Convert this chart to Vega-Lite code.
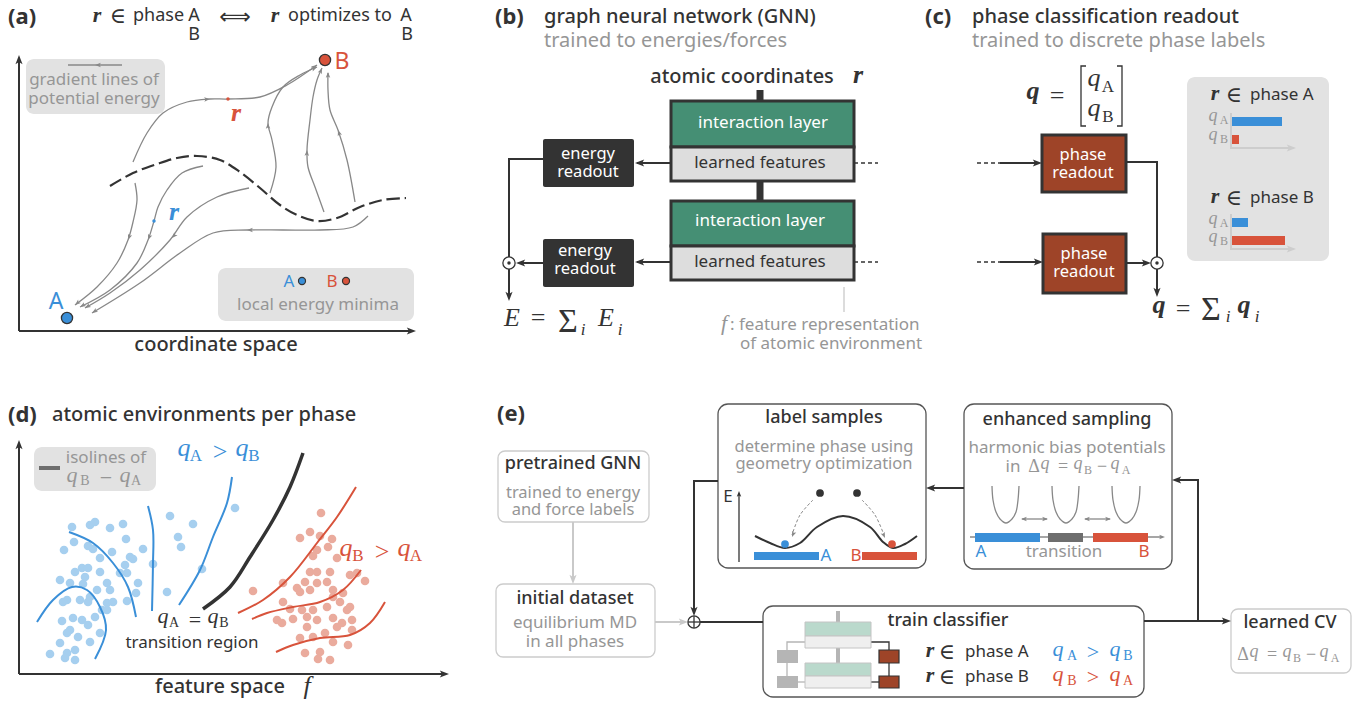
{
"$schema":"https://vega.github.io/schema/vega-lite/v6.json",
"width":1363,"height":702,
"autosize":{"type":"fit","contains":"padding"},
"padding":0,
"background":"white",
"config":{"view":{"stroke":null}},
"encoding":{
 "x":{"field":"x","type":"quantitative","scale":{"domain":[0,1363],"nice":false,"zero":false},"axis":null},
 "y":{"field":"y","type":"quantitative","scale":{"domain":[0,702],"nice":false,"zero":false,"reverse":true},"axis":null},
 "color":{"field":"tone","type":"nominal","legend":null,"scale":{
   "domain":["dark","gray","blue","red","white","lblue","salmon","green","lgray","box","brown","faint","mint","pale","mid","bar","axis","line"],
   "range":["#333333","#969696","#3a8fd8","#d8533b","#ffffff","#a6cfef","#eaab9d","#458f74","#dddddd","#e2e2e2","#9e4428","#c9c9c9","#bad9cc","#efefef","#b5b5b5","#6e6e6e","#cdcdcd","#888888"]}}
},
"layer":[
{"data":{"values":[
 {"x":26,"y":59,"x2":165,"y2":114,"tone":"box"},
 {"x":218,"y":268,"x2":414,"y2":321,"tone":"box"},
 {"x":1187,"y":77,"x2":1329,"y2":261,"tone":"box"},
 {"x":34,"y":447,"x2":156,"y2":491,"tone":"box"}]},
 "mark":{"type":"rect","cornerRadius":8},
 "encoding":{"x2":{"field":"x2"},"y2":{"field":"y2"}}},
{"data":{"values":[
 {"x":718,"y":404,"x2":926,"y2":568,"tone":"white"},
 {"x":964,"y":404,"x2":1172,"y2":569,"tone":"white"},
 {"x":763,"y":606,"x2":1144,"y2":697,"tone":"white"}]},
 "mark":{"type":"rect","cornerRadius":10,"stroke":"#555555","strokeWidth":1.3},
 "encoding":{"x2":{"field":"x2"},"y2":{"field":"y2"}}},
{"data":{"values":[
 {"x":498,"y":451,"x2":649,"y2":522,"tone":"white"},
 {"x":496,"y":584,"x2":655,"y2":657,"tone":"white"},
 {"x":1231,"y":609,"x2":1351,"y2":673,"tone":"white"}]},
 "mark":{"type":"rect","cornerRadius":7,"stroke":"#cccccc","strokeWidth":1.3},
 "encoding":{"x2":{"field":"x2"},"y2":{"field":"y2"}}},
{"data":{"values":[
 {"x":72,"y":527,"tone":"lblue"},{"x":90,"y":525,"tone":"lblue"},{"x":95,"y":522,"tone":"lblue"},{"x":110,"y":528,"tone":"lblue"},{"x":123,"y":524,"tone":"lblue"},{"x":126,"y":539,"tone":"lblue"},{"x":74,"y":542,"tone":"lblue"},{"x":64,"y":550,"tone":"lblue"},{"x":88,"y":546,"tone":"lblue"},{"x":93,"y":549,"tone":"lblue"},{"x":112,"y":552,"tone":"lblue"},{"x":100,"y":558,"tone":"lblue"},{"x":130,"y":557,"tone":"lblue"},{"x":133,"y":559,"tone":"lblue"},{"x":143,"y":549,"tone":"lblue"},{"x":125,"y":565,"tone":"lblue"},{"x":127,"y":573,"tone":"lblue"},{"x":82,"y":568,"tone":"lblue"},{"x":88,"y":568,"tone":"lblue"},{"x":75,"y":572,"tone":"lblue"},{"x":100,"y":572,"tone":"lblue"},{"x":85,"y":577,"tone":"lblue"},{"x":60,"y":580,"tone":"lblue"},{"x":70,"y":583,"tone":"lblue"},{"x":83,"y":584,"tone":"lblue"},{"x":107,"y":583,"tone":"lblue"},{"x":110,"y":590,"tone":"lblue"},{"x":97,"y":590,"tone":"lblue"},{"x":138,"y":583,"tone":"lblue"},{"x":67,"y":600,"tone":"lblue"},{"x":80,"y":600,"tone":"lblue"},{"x":88,"y":602,"tone":"lblue"},{"x":63,"y":602,"tone":"lblue"},{"x":107,"y":603,"tone":"lblue"},{"x":113,"y":602,"tone":"lblue"},{"x":127,"y":601,"tone":"lblue"},{"x":136,"y":593,"tone":"lblue"},{"x":73,"y":618,"tone":"lblue"},{"x":82,"y":620,"tone":"lblue"},{"x":62,"y":621,"tone":"lblue"},{"x":95,"y":617,"tone":"lblue"},{"x":102,"y":610,"tone":"lblue"},{"x":88,"y":625,"tone":"lblue"},{"x":70,"y":630,"tone":"lblue"},{"x":78,"y":637,"tone":"lblue"},{"x":100,"y":633,"tone":"lblue"},{"x":60,"y":643,"tone":"lblue"},{"x":90,"y":642,"tone":"lblue"},{"x":50,"y":654,"tone":"lblue"},{"x":67,"y":653,"tone":"lblue"},{"x":75,"y":650,"tone":"lblue"},{"x":65,"y":658,"tone":"lblue"},{"x":75,"y":660,"tone":"lblue"},{"x":67,"y":633,"tone":"lblue"},{"x":170,"y":516,"tone":"lblue"},{"x":193,"y":524,"tone":"lblue"},{"x":178,"y":537,"tone":"lblue"},{"x":181,"y":547,"tone":"lblue"},{"x":153,"y":564,"tone":"lblue"},{"x":167,"y":592,"tone":"lblue"},{"x":202,"y":569,"tone":"lblue"},{"x":235,"y":508,"tone":"lblue"},{"x":107,"y":610,"tone":"lblue"},{"x":90,"y":597,"tone":"lblue"},{"x":120,"y":573,"tone":"lblue"},
 {"x":321,"y":513,"tone":"salmon"},{"x":300,"y":538,"tone":"salmon"},{"x":310,"y":532,"tone":"salmon"},{"x":320,"y":536,"tone":"salmon"},{"x":332,"y":539,"tone":"salmon"},{"x":328,"y":547,"tone":"salmon"},{"x":313,"y":556,"tone":"salmon"},{"x":317,"y":550,"tone":"salmon"},{"x":337,"y":558,"tone":"salmon"},{"x":350,"y":575,"tone":"salmon"},{"x":365,"y":581,"tone":"salmon"},{"x":357,"y":573,"tone":"salmon"},{"x":330,"y":572,"tone":"salmon"},{"x":310,"y":572,"tone":"salmon"},{"x":317,"y":572,"tone":"salmon"},{"x":327,"y":582,"tone":"salmon"},{"x":305,"y":582,"tone":"salmon"},{"x":297,"y":588,"tone":"salmon"},{"x":283,"y":583,"tone":"salmon"},{"x":253,"y":591,"tone":"salmon"},{"x":300,"y":592,"tone":"salmon"},{"x":310,"y":590,"tone":"salmon"},{"x":333,"y":590,"tone":"salmon"},{"x":343,"y":593,"tone":"salmon"},{"x":340,"y":602,"tone":"salmon"},{"x":327,"y":607,"tone":"salmon"},{"x":313,"y":610,"tone":"salmon"},{"x":283,"y":602,"tone":"salmon"},{"x":290,"y":609,"tone":"salmon"},{"x":302,"y":610,"tone":"salmon"},{"x":277,"y":620,"tone":"salmon"},{"x":282,"y":623,"tone":"salmon"},{"x":293,"y":619,"tone":"salmon"},{"x":307,"y":617,"tone":"salmon"},{"x":317,"y":620,"tone":"salmon"},{"x":333,"y":618,"tone":"salmon"},{"x":337,"y":627,"tone":"salmon"},{"x":352,"y":620,"tone":"salmon"},{"x":347,"y":610,"tone":"salmon"},{"x":350,"y":607,"tone":"salmon"},{"x":307,"y":627,"tone":"salmon"},{"x":300,"y":638,"tone":"salmon"},{"x":313,"y":637,"tone":"salmon"},{"x":325,"y":633,"tone":"salmon"},{"x":333,"y":642,"tone":"salmon"},{"x":348,"y":645,"tone":"salmon"},{"x":305,"y":653,"tone":"salmon"},{"x":320,"y":652,"tone":"salmon"},{"x":330,"y":660,"tone":"salmon"},{"x":318,"y":659,"tone":"salmon"},{"x":352,"y":630,"tone":"salmon"},{"x":342,"y":623,"tone":"salmon"},{"x":317,"y":583,"tone":"salmon"},{"x":333,"y":597,"tone":"salmon"}]},
 "mark":{"type":"point","shape":"circle","filled":true,"opacity":1,"size":75}},
{"data":{"values":[
 {"id":"av","x":19,"y":331,"tone":"dark"},{"id":"av","x":19,"y":58,"tone":"dark"},
 {"id":"ah","x":19,"y":331,"tone":"dark"},{"id":"ah","x":413,"y":331,"tone":"dark"},
 {"id":"dv","x":19,"y":674,"tone":"dark"},{"id":"dv","x":19,"y":443,"tone":"dark"},
 {"id":"dh","x":19,"y":674,"tone":"dark"},{"id":"dh","x":446,"y":674,"tone":"dark"},
 {"id":"bf1","x":671,"y":163,"tone":"dark"},{"id":"bf1","x":637,"y":163,"tone":"dark"},
 {"id":"bf2","x":671,"y":262,"tone":"dark"},{"id":"bf2","x":637,"y":262,"tone":"dark"},
 {"id":"bl","x":543,"y":159,"tone":"dark"},{"id":"bl","x":509,"y":159,"tone":"dark"},{"id":"bl","x":509,"y":257,"tone":"dark"},
 {"id":"br2","x":543,"y":263,"tone":"dark"},{"id":"br2","x":519,"y":263,"tone":"dark"},
 {"id":"bd","x":509,"y":269,"tone":"dark"},{"id":"bd","x":509,"y":297,"tone":"dark"},
 {"id":"ci1","x":1000,"y":163,"tone":"dark"},{"id":"ci1","x":1039,"y":163,"tone":"dark"},
 {"id":"ci2","x":1000,"y":262,"tone":"dark"},{"id":"ci2","x":1040,"y":262,"tone":"dark"},
 {"id":"cr1","x":1126,"y":162,"tone":"dark"},{"id":"cr1","x":1157,"y":162,"tone":"dark"},{"id":"cr1","x":1157,"y":257,"tone":"dark"},
 {"id":"cr2","x":1126,"y":263,"tone":"dark"},{"id":"cr2","x":1148,"y":263,"tone":"dark"},
 {"id":"cd","x":1157,"y":269,"tone":"dark"},{"id":"cd","x":1157,"y":294,"tone":"dark"},
 {"id":"els","x":718,"y":481,"tone":"dark"},{"id":"els","x":694,"y":481,"tone":"dark"},{"id":"els","x":694,"y":613,"tone":"dark"},
 {"id":"etc","x":700,"y":622,"tone":"dark"},{"id":"etc","x":763,"y":622,"tone":"dark"},
 {"id":"ees","x":964,"y":488,"tone":"dark"},{"id":"ees","x":929,"y":488,"tone":"dark"},
 {"id":"ecv","x":1144,"y":621,"tone":"dark"},{"id":"ecv","x":1228,"y":621,"tone":"dark"},
 {"id":"eup","x":1198,"y":621,"tone":"dark"},{"id":"eup","x":1198,"y":480,"tone":"dark"},{"id":"eup","x":1175,"y":480,"tone":"dark"},
 {"id":"epg","x":573,"y":522,"tone":"faint"},{"id":"epg","x":573,"y":581,"tone":"faint"},
 {"id":"eid","x":655,"y":622,"tone":"faint"},{"id":"eid","x":685,"y":622,"tone":"faint"},
 {"id":"cx1","x":1231,"y":113,"tone":"axis"},{"id":"cx1","x":1231,"y":148,"tone":"axis"},{"id":"cx1","x":1293,"y":148,"tone":"axis"},
 {"id":"cx2","x":1231,"y":214,"tone":"axis"},{"id":"cx2","x":1231,"y":249,"tone":"axis"},{"id":"cx2","x":1293,"y":249,"tone":"axis"}]},
 "mark":{"type":"line","strokeWidth":2},
 "encoding":{"detail":{"field":"id"},"order":{"value":null}}},
{"data":{"values":[
 {"id":"al","x":68,"y":65,"tone":"line"},{"id":"al","x":122,"y":65,"tone":"line"},
 {"id":"bk1","x":1086,"y":66,"tone":"dark"},{"id":"bk1","x":1081,"y":66,"tone":"dark"},{"id":"bk1","x":1081,"y":126,"tone":"dark"},{"id":"bk1","x":1086,"y":126,"tone":"dark"},
 {"id":"bk2","x":1117,"y":66,"tone":"dark"},{"id":"bk2","x":1122,"y":66,"tone":"dark"},{"id":"bk2","x":1122,"y":126,"tone":"dark"},{"id":"bk2","x":1117,"y":126,"tone":"dark"},
 {"id":"bg","x":844,"y":287,"tone":"faint"},{"id":"bg","x":844,"y":312,"tone":"faint"},
 {"id":"eE","x":739,"y":562,"tone":"dark"},{"id":"eE","x":739,"y":494,"tone":"dark"},
 {"id":"eb","x":970,"y":537,"tone":"line"},{"id":"eb","x":1162,"y":537,"tone":"line"},
 {"id":"d1","x":1022,"y":519,"tone":"line"},{"id":"d1","x":1047,"y":519,"tone":"line"},
 {"id":"d2","x":1085,"y":519,"tone":"line"},{"id":"d2","x":1110,"y":519,"tone":"line"},
 {"id":"m1","x":805,"y":642,"tone":"mid"},{"id":"m1","x":787,"y":642,"tone":"mid"},{"id":"m1","x":787,"y":650,"tone":"mid"},
 {"id":"m2","x":787,"y":663,"tone":"mid"},{"id":"m2","x":787,"y":676,"tone":"mid"},
 {"id":"m3","x":798,"y":682,"tone":"mid"},{"id":"m3","x":805,"y":682,"tone":"mid"},
 {"id":"n1","x":871,"y":642,"tone":"dark"},{"id":"n1","x":889,"y":642,"tone":"dark"},{"id":"n1","x":889,"y":650,"tone":"dark"},
 {"id":"n2","x":889,"y":663,"tone":"dark"},{"id":"n2","x":889,"y":676,"tone":"dark"},
 {"id":"n3","x":871,"y":682,"tone":"dark"},{"id":"n3","x":879,"y":682,"tone":"dark"}]},
 "mark":{"type":"line","strokeWidth":1.3},
 "encoding":{"detail":{"field":"id"},"order":{"value":null}}},
{"data":{"values":[
 {"id":"s1","x":760,"y":90,"tone":"dark"},{"id":"s1","x":760,"y":101,"tone":"dark"},
 {"id":"s2","x":760,"y":181,"tone":"dark"},{"id":"s2","x":760,"y":201,"tone":"dark"}]},
 "mark":{"type":"line","strokeWidth":7,"strokeCap":"butt"},
 "encoding":{"detail":{"field":"id"},"order":{"value":null}}},
{"data":{"values":[
 {"id":"t1","x":838,"y":611,"tone":"mid"},{"id":"t1","x":838,"y":622,"tone":"mid"},
 {"id":"t2","x":838,"y":648,"tone":"mid"},{"id":"t2","x":838,"y":663,"tone":"mid"},
 {"id":"lg","x":39,"y":468,"tone":"bar"},{"id":"lg","x":60,"y":468,"tone":"bar"}]},
 "mark":{"type":"line","strokeWidth":4,"strokeCap":"butt"},
 "encoding":{"detail":{"field":"id"},"order":{"value":null}}},
{"data":{"values":[
 {"id":"q1","x":854,"y":163,"tone":"dark"},{"id":"q1","x":878,"y":163,"tone":"dark"},
 {"id":"q2","x":854,"y":262,"tone":"dark"},{"id":"q2","x":878,"y":262,"tone":"dark"},
 {"id":"q3","x":977,"y":163,"tone":"dark"},{"id":"q3","x":1000,"y":163,"tone":"dark"},
 {"id":"q4","x":977,"y":262,"tone":"dark"},{"id":"q4","x":1000,"y":262,"tone":"dark"}]},
 "mark":{"type":"line","strokeWidth":1.5,"strokeDash":[4,3]},
 "encoding":{"detail":{"field":"id"},"order":{"value":null}}},
{"data":{"values":[
 {"id":"g1","x":133,"y":162,"tone":"line"},{"id":"g1","x":147,"y":133,"tone":"line"},{"id":"g1","x":163,"y":113,"tone":"line"},{"id":"g1","x":187,"y":102,"tone":"line"},{"id":"g1","x":210,"y":99,"tone":"line"},{"id":"g1","x":228,"y":99,"tone":"line"},{"id":"g1","x":260,"y":97,"tone":"line"},{"id":"g1","x":287,"y":85,"tone":"line"},{"id":"g1","x":317,"y":65,"tone":"line"},
 {"id":"g2","x":270,"y":193,"tone":"line"},{"id":"g2","x":276,"y":167,"tone":"line"},{"id":"g2","x":272,"y":140,"tone":"line"},{"id":"g2","x":268,"y":123,"tone":"line"},{"id":"g2","x":272,"y":107,"tone":"line"},{"id":"g2","x":283,"y":87,"tone":"line"},{"id":"g2","x":300,"y":75,"tone":"line"},{"id":"g2","x":317,"y":67,"tone":"line"},
 {"id":"g3","x":324,"y":212,"tone":"line"},{"id":"g3","x":315,"y":187,"tone":"line"},{"id":"g3","x":308,"y":167,"tone":"line"},{"id":"g3","x":307,"y":150,"tone":"line"},{"id":"g3","x":310,"y":120,"tone":"line"},{"id":"g3","x":313,"y":97,"tone":"line"},{"id":"g3","x":317,"y":80,"tone":"line"},{"id":"g3","x":322,"y":68,"tone":"line"},
 {"id":"g4","x":355,"y":202,"tone":"line"},{"id":"g4","x":347,"y":160,"tone":"line"},{"id":"g4","x":338,"y":130,"tone":"line"},{"id":"g4","x":330,"y":110,"tone":"line"},{"id":"g4","x":328,"y":90,"tone":"line"},{"id":"g4","x":328,"y":73,"tone":"line"},
 {"id":"g5","x":135,"y":183,"tone":"line"},{"id":"g5","x":137,"y":200,"tone":"line"},{"id":"g5","x":133,"y":222,"tone":"line"},{"id":"g5","x":128,"y":240,"tone":"line"},{"id":"g5","x":117,"y":263,"tone":"line"},{"id":"g5","x":97,"y":287,"tone":"line"},{"id":"g5","x":75,"y":305,"tone":"line"},
 {"id":"g6","x":203,"y":166,"tone":"line"},{"id":"g6","x":182,"y":173,"tone":"line"},{"id":"g6","x":167,"y":190,"tone":"line"},{"id":"g6","x":158,"y":207,"tone":"line"},{"id":"g6","x":154,"y":221,"tone":"line"},{"id":"g6","x":148,"y":240,"tone":"line"},{"id":"g6","x":137,"y":263,"tone":"line"},{"id":"g6","x":110,"y":290,"tone":"line"},{"id":"g6","x":80,"y":307,"tone":"line"},
 {"id":"g7","x":249,"y":188,"tone":"line"},{"id":"g7","x":217,"y":197,"tone":"line"},{"id":"g7","x":187,"y":217,"tone":"line"},{"id":"g7","x":170,"y":240,"tone":"line"},{"id":"g7","x":140,"y":270,"tone":"line"},{"id":"g7","x":110,"y":293,"tone":"line"},{"id":"g7","x":85,"y":308,"tone":"line"},
 {"id":"g8","x":368,"y":216,"tone":"line"},{"id":"g8","x":353,"y":227,"tone":"line"},{"id":"g8","x":320,"y":230,"tone":"line"},{"id":"g8","x":283,"y":230,"tone":"line"},{"id":"g8","x":247,"y":230,"tone":"line"},{"id":"g8","x":213,"y":233,"tone":"line"},{"id":"g8","x":180,"y":253,"tone":"line"},{"id":"g8","x":140,"y":283,"tone":"line"},{"id":"g8","x":92,"y":313,"tone":"line"},
 {"id":"p1","x":992,"y":486,"tone":"line"},{"id":"p1","x":993,"y":500,"tone":"line"},{"id":"p1","x":996,"y":512,"tone":"line"},{"id":"p1","x":1000,"y":519,"tone":"line"},{"id":"p1","x":1006,"y":523,"tone":"line"},{"id":"p1","x":1012,"y":519,"tone":"line"},{"id":"p1","x":1016,"y":512,"tone":"line"},{"id":"p1","x":1018,"y":500,"tone":"line"},{"id":"p1","x":1019,"y":486,"tone":"line"},
 {"id":"p2","x":1052,"y":486,"tone":"line"},{"id":"p2","x":1053,"y":500,"tone":"line"},{"id":"p2","x":1056,"y":512,"tone":"line"},{"id":"p2","x":1060,"y":519,"tone":"line"},{"id":"p2","x":1066,"y":523,"tone":"line"},{"id":"p2","x":1072,"y":519,"tone":"line"},{"id":"p2","x":1076,"y":512,"tone":"line"},{"id":"p2","x":1078,"y":500,"tone":"line"},{"id":"p2","x":1079,"y":486,"tone":"line"},
 {"id":"p3","x":1112,"y":486,"tone":"line"},{"id":"p3","x":1113,"y":500,"tone":"line"},{"id":"p3","x":1116,"y":512,"tone":"line"},{"id":"p3","x":1120,"y":519,"tone":"line"},{"id":"p3","x":1126,"y":523,"tone":"line"},{"id":"p3","x":1132,"y":519,"tone":"line"},{"id":"p3","x":1136,"y":512,"tone":"line"},{"id":"p3","x":1139,"y":500,"tone":"line"},{"id":"p3","x":1140,"y":486,"tone":"line"}]},
 "mark":{"type":"line","strokeWidth":1.3,"interpolate":"catmull-rom"},
 "encoding":{"detail":{"field":"id"},"order":{"value":null}}},
{"data":{"values":[
 {"id":"b","x":110,"y":186,"tone":"dark"},{"id":"b","x":133,"y":173,"tone":"dark"},{"id":"b","x":157,"y":164,"tone":"dark"},{"id":"b","x":177,"y":158,"tone":"dark"},{"id":"b","x":197,"y":156,"tone":"dark"},{"id":"b","x":220,"y":160,"tone":"dark"},{"id":"b","x":240,"y":172,"tone":"dark"},{"id":"b","x":260,"y":188,"tone":"dark"},{"id":"b","x":280,"y":205,"tone":"dark"},{"id":"b","x":297,"y":215,"tone":"dark"},{"id":"b","x":317,"y":221,"tone":"dark"},{"id":"b","x":337,"y":218,"tone":"dark"},{"id":"b","x":360,"y":207,"tone":"dark"},{"id":"b","x":383,"y":200,"tone":"dark"},{"id":"b","x":406,"y":198,"tone":"dark"}]},
 "mark":{"type":"line","strokeWidth":2.2,"strokeDash":[13,5],"interpolate":"catmull-rom"},
 "encoding":{"detail":{"field":"id"},"order":{"value":null}}},
{"data":{"values":[
 {"id":"i1","x":37,"y":622,"tone":"blue"},{"id":"i1","x":53,"y":600,"tone":"blue"},{"id":"i1","x":72,"y":587,"tone":"blue"},{"id":"i1","x":87,"y":590,"tone":"blue"},{"id":"i1","x":100,"y":607,"tone":"blue"},{"id":"i1","x":106,"y":630,"tone":"blue"},{"id":"i1","x":95,"y":659,"tone":"blue"},
 {"id":"i2","x":69,"y":532,"tone":"blue"},{"id":"i2","x":93,"y":543,"tone":"blue"},{"id":"i2","x":113,"y":563,"tone":"blue"},{"id":"i2","x":128,"y":587,"tone":"blue"},{"id":"i2","x":136,"y":617,"tone":"blue"},
 {"id":"i3","x":148,"y":506,"tone":"blue"},{"id":"i3","x":153,"y":530,"tone":"blue"},{"id":"i3","x":153,"y":563,"tone":"blue"},{"id":"i3","x":152,"y":611,"tone":"blue"},
 {"id":"i4","x":232,"y":477,"tone":"blue"},{"id":"i4","x":227,"y":503,"tone":"blue"},{"id":"i4","x":213,"y":537,"tone":"blue"},{"id":"i4","x":200,"y":570,"tone":"blue"},{"id":"i4","x":179,"y":605,"tone":"blue"},
 {"id":"r1","x":356,"y":487,"tone":"red"},{"id":"r1","x":337,"y":517,"tone":"red"},{"id":"r1","x":317,"y":543,"tone":"red"},{"id":"r1","x":290,"y":577,"tone":"red"},{"id":"r1","x":263,"y":600,"tone":"red"},{"id":"r1","x":238,"y":613,"tone":"red"},
 {"id":"r2","x":361,"y":570,"tone":"red"},{"id":"r2","x":343,"y":590,"tone":"red"},{"id":"r2","x":320,"y":602,"tone":"red"},{"id":"r2","x":293,"y":607,"tone":"red"},{"id":"r2","x":267,"y":613,"tone":"red"},{"id":"r2","x":252,"y":619,"tone":"red"},
 {"id":"r3","x":385,"y":602,"tone":"red"},{"id":"r3","x":370,"y":623,"tone":"red"},{"id":"r3","x":350,"y":635,"tone":"red"},{"id":"r3","x":320,"y":638,"tone":"red"},{"id":"r3","x":293,"y":645,"tone":"red"},{"id":"r3","x":276,"y":652,"tone":"red"},
 {"id":"w","x":755,"y":536,"tone":"dark"},{"id":"w","x":770,"y":543,"tone":"dark"},{"id":"w","x":785,"y":548,"tone":"dark"},{"id":"w","x":800,"y":543,"tone":"dark"},{"id":"w","x":817,"y":527,"tone":"dark"},{"id":"w","x":843,"y":516,"tone":"dark"},{"id":"w","x":870,"y":527,"tone":"dark"},{"id":"w","x":883,"y":542,"tone":"dark"},{"id":"w","x":893,"y":548,"tone":"dark"},{"id":"w","x":905,"y":544,"tone":"dark"},{"id":"w","x":917,"y":536,"tone":"dark"}]},
 "mark":{"type":"line","strokeWidth":2,"interpolate":"catmull-rom"},
 "encoding":{"detail":{"field":"id"},"order":{"value":null}}},
{"data":{"values":[
 {"id":"k","x":303,"y":453,"tone":"dark"},{"id":"k","x":290,"y":487,"tone":"dark"},{"id":"k","x":273,"y":520,"tone":"dark"},{"id":"k","x":250,"y":557,"tone":"dark"},{"id":"k","x":230,"y":587,"tone":"dark"},{"id":"k","x":203,"y":609,"tone":"dark"}]},
 "mark":{"type":"line","strokeWidth":3.5,"interpolate":"catmull-rom"},
 "encoding":{"detail":{"field":"id"},"order":{"value":null}}},
{"data":{"values":[
 {"id":"f1","x":813,"y":500,"tone":"line"},{"id":"f1","x":800,"y":515,"tone":"line"},{"id":"f1","x":792,"y":535,"tone":"line"},
 {"id":"f2","x":862,"y":500,"tone":"line"},{"id":"f2","x":875,"y":515,"tone":"line"},{"id":"f2","x":884,"y":535,"tone":"line"}]},
 "mark":{"type":"line","strokeWidth":1,"strokeDash":[3,2],"interpolate":"catmull-rom"},
 "encoding":{"detail":{"field":"id"},"order":{"value":null}}},
{"data":{"values":[
 {"x":1232,"y":117,"x2":1282,"y2":126,"tone":"blue"},{"x":1232,"y":135,"x2":1239,"y2":144,"tone":"red"},
 {"x":1232,"y":218,"x2":1248,"y2":227,"tone":"blue"},{"x":1232,"y":236,"x2":1285,"y2":245,"tone":"red"},
 {"x":754,"y":552,"x2":819,"y2":560,"tone":"blue"},{"x":862,"y":552,"x2":917,"y2":560,"tone":"red"},
 {"x":975,"y":533,"x2":1040,"y2":542,"tone":"blue"},{"x":1048,"y":533,"x2":1083,"y2":542,"tone":"bar"},{"x":1093,"y":533,"x2":1148,"y2":542,"tone":"red"},
 {"x":777,"y":650,"x2":798,"y2":663,"tone":"mid"},{"x":777,"y":676,"x2":798,"y2":688,"tone":"mid"}]},
 "mark":{"type":"rect"},
 "encoding":{"x2":{"field":"x2"},"y2":{"field":"y2"}}},
{"data":{"values":[
 {"x":543,"y":139,"x2":634,"y2":187,"tone":"dark"},{"x":543,"y":239,"x2":634,"y2":287,"tone":"dark"}]},
 "mark":{"type":"rect","cornerRadius":2},
 "encoding":{"x2":{"field":"x2"},"y2":{"field":"y2"}}},
{"data":{"values":[
 {"x":671,"y":101,"x2":854,"y2":147,"tone":"green"},{"x":671,"y":147,"x2":854,"y2":181,"tone":"lgray"},
 {"x":671,"y":201,"x2":854,"y2":246,"tone":"green"},{"x":671,"y":246,"x2":854,"y2":280,"tone":"lgray"},
 {"x":1042,"y":135,"x2":1126,"y2":192,"tone":"brown"},{"x":1043,"y":234,"x2":1126,"y2":293,"tone":"brown"}]},
 "mark":{"type":"rect","stroke":"#333333","strokeWidth":3},
 "encoding":{"x2":{"field":"x2"},"y2":{"field":"y2"}}},
{"data":{"values":[
 {"x":805,"y":622,"x2":871,"y2":636,"tone":"mint"},{"x":805,"y":636,"x2":871,"y2":648,"tone":"pale"},
 {"x":805,"y":663,"x2":871,"y2":676,"tone":"mint"},{"x":805,"y":676,"x2":871,"y2":688,"tone":"pale"}]},
 "mark":{"type":"rect","stroke":"#c4c4c4","strokeWidth":1},
 "encoding":{"x2":{"field":"x2"},"y2":{"field":"y2"}}},
{"data":{"values":[
 {"x":879,"y":650,"x2":899,"y2":663,"tone":"brown"},{"x":879,"y":676,"x2":899,"y2":688,"tone":"brown"}]},
 "mark":{"type":"rect","stroke":"#333333","strokeWidth":1.2},
 "encoding":{"x2":{"field":"x2"},"y2":{"field":"y2"}}},
{"data":{"values":[
 {"x":509,"y":263,"tone":"white"},{"x":1157,"y":263,"tone":"white"},{"x":694,"y":622,"tone":"white"}]},
 "mark":{"type":"point","shape":"circle","filled":true,"opacity":1,"size":150,"stroke":"#333333","strokeWidth":1.3}},
{"data":{"values":[
 {"id":"x1","x":688,"y":622,"tone":"dark"},{"id":"x1","x":700,"y":622,"tone":"dark"},
 {"id":"x2","x":694,"y":616,"tone":"dark"},{"id":"x2","x":694,"y":628,"tone":"dark"}]},
 "mark":{"type":"line","strokeWidth":1.3},
 "encoding":{"detail":{"field":"id"},"order":{"value":null}}},
{"data":{"values":[
 {"x":228,"y":99,"tone":"red"},{"x":154,"y":221,"tone":"blue"},{"x":509,"y":263,"tone":"dark"},{"x":1157,"y":263,"tone":"dark"}]},
 "mark":{"type":"point","shape":"circle","filled":true,"opacity":1,"size":12}},
{"data":{"values":[
 {"x":67,"y":318,"tone":"blue"},{"x":325,"y":60,"tone":"red"}]},
 "mark":{"type":"point","shape":"circle","filled":true,"opacity":1,"size":125,"stroke":"#333333","strokeWidth":1.3}},
{"data":{"values":[
 {"x":302,"y":281,"tone":"blue"},{"x":346,"y":281,"tone":"red"}]},
 "mark":{"type":"point","shape":"circle","filled":true,"opacity":1,"size":50,"stroke":"#333333","strokeWidth":1.2}},
{"data":{"values":[
 {"x":785,"y":544,"tone":"blue"},{"x":892,"y":544,"tone":"red"},{"x":820,"y":493,"tone":"dark"},{"x":857,"y":493,"tone":"dark"}]},
 "mark":{"type":"point","shape":"circle","filled":true,"opacity":1,"size":60}},
{"data":{"values":[
 {"x":19,"y":55,"ang":0,"tone":"dark"},{"x":416,"y":331,"ang":90,"tone":"dark"},
 {"x":19,"y":440,"ang":0,"tone":"dark"},{"x":449,"y":674,"ang":90,"tone":"dark"},
 {"x":635,"y":163,"ang":270,"tone":"dark"},{"x":635,"y":262,"ang":270,"tone":"dark"},
 {"x":516,"y":263,"ang":270,"tone":"dark"},{"x":509,"y":301,"ang":180,"tone":"dark"},
 {"x":1042,"y":163,"ang":90,"tone":"dark"},{"x":1043,"y":262,"ang":90,"tone":"dark"},
 {"x":1151,"y":263,"ang":90,"tone":"dark"},{"x":1157,"y":297,"ang":180,"tone":"dark"},
 {"x":1296,"y":148,"ang":90,"tone":"axis"},{"x":1296,"y":249,"ang":90,"tone":"axis"},
 {"x":573,"y":584,"ang":180,"tone":"faint"},{"x":688,"y":622,"ang":90,"tone":"faint"},
 {"x":694,"y":616,"ang":180,"tone":"dark"},{"x":926,"y":488,"ang":270,"tone":"dark"},
 {"x":1172,"y":480,"ang":270,"tone":"dark"},{"x":1231,"y":621,"ang":90,"tone":"dark"}]},
 "mark":{"type":"point","shape":"M0,0L1,2.6L0,2L-1,2.6Z","filled":true,"opacity":1,"size":50},
 "encoding":{"angle":{"field":"ang","type":"quantitative","scale":{"domain":[0,360],"range":[0,360]}}}},
{"data":{"values":[
 {"x":210,"y":99,"ang":86,"tone":"line"},{"x":268,"y":123,"ang":0,"tone":"line"},{"x":307,"y":150,"ang":2,"tone":"line"},{"x":338,"y":130,"ang":341,"tone":"line"},
 {"x":128,"y":240,"ang":201,"tone":"line"},{"x":148,"y":240,"ang":202,"tone":"line"},{"x":172,"y":238,"ang":222,"tone":"line"},{"x":247,"y":230,"ang":270,"tone":"line"},
 {"x":317,"y":65,"ang":56,"tone":"line"},{"x":317,"y":67,"ang":65,"tone":"line"},{"x":322,"y":68,"ang":23,"tone":"line"},{"x":328,"y":72,"ang":0,"tone":"line"},
 {"x":75,"y":305,"ang":231,"tone":"line"},{"x":80,"y":307,"ang":240,"tone":"line"},{"x":85,"y":308,"ang":239,"tone":"line"},{"x":92,"y":313,"ang":238,"tone":"line"},
 {"x":95,"y":65,"ang":270,"tone":"line"},
 {"x":792,"y":537,"ang":202,"tone":"line"},{"x":885,"y":538,"ang":156,"tone":"line"},
 {"x":739,"y":491,"ang":0,"tone":"dark"},{"x":1165,"y":537,"ang":90,"tone":"line"},
 {"x":1021,"y":519,"ang":270,"tone":"line"},{"x":1048,"y":519,"ang":90,"tone":"line"},{"x":1084,"y":519,"ang":270,"tone":"line"},{"x":1111,"y":519,"ang":90,"tone":"line"}]},
 "mark":{"type":"point","shape":"M0,0L1,2.6L0,2L-1,2.6Z","filled":true,"opacity":1,"size":20},
 "encoding":{"angle":{"field":"ang","type":"quantitative","scale":{"domain":[0,360],"range":[0,360]}}}},
{"data":{"values":[
 {"x":8,"y":17,"t":"(a)","tone":"dark"},{"x":495,"y":17,"t":"(b)","tone":"dark"},{"x":925,"y":17,"t":"(c)","tone":"dark"},{"x":8,"y":415,"t":"(d)","tone":"dark"},{"x":497,"y":414,"t":"(e)","tone":"dark"}]},
 "mark":{"type":"text","font":"Noto Sans","fontSize":22,"fontWeight":"bold","align":"left","baseline":"middle"},
 "encoding":{"text":{"field":"t"}}},
{"data":{"values":[
 {"x":544,"y":17,"t":"graph neural network  (GNN)","tone":"dark"},{"x":972,"y":17,"t":"phase classification readout","tone":"dark"},{"x":52,"y":415,"t":"atomic environments per phase","tone":"dark"}]},
 "mark":{"type":"text","font":"Noto Sans","fontSize":20,"fontWeight":500,"align":"left","baseline":"middle"},
 "encoding":{"text":{"field":"t"}}},
{"data":{"values":[
 {"x":544,"y":41,"t":"trained to energies/forces","tone":"gray"},{"x":972,"y":41,"t":"trained to discrete phase labels","tone":"gray"}]},
 "mark":{"type":"text","font":"Noto Sans","fontSize":20,"align":"left","baseline":"middle"},
 "encoding":{"text":{"field":"t"}}},
{"data":{"values":[
 {"x":216,"y":345,"t":"coordinate space","tone":"dark"},{"x":220,"y":687,"t":"feature space","tone":"dark"},{"x":742,"y":77,"t":"atomic coordinates","tone":"dark"}]},
 "mark":{"type":"text","font":"Noto Sans","fontSize":20,"fontWeight":500,"align":"center","baseline":"middle"},
 "encoding":{"text":{"field":"t"}}},
{"data":{"values":[
 {"x":573,"y":464,"t":"pretrained GNN","tone":"dark"},{"x":575,"y":599,"t":"initial dataset","tone":"dark"},{"x":824,"y":418,"t":"label samples","tone":"dark"},{"x":1067,"y":420,"t":"enhanced sampling","tone":"dark"},{"x":948,"y":621,"t":"train classifier","tone":"dark"},{"x":1290,"y":623,"t":"learned CV","tone":"dark"}]},
 "mark":{"type":"text","font":"Noto Sans","fontSize":18,"fontWeight":500,"align":"center","baseline":"middle"},
 "encoding":{"text":{"field":"t"}}},
{"data":{"values":[
 {"x":94,"y":80,"t":"gradient lines of","tone":"gray"},{"x":94,"y":99,"t":"potential energy","tone":"gray"},{"x":318,"y":305,"t":"local energy minima","tone":"gray"},
 {"x":289,"y":282,"t":"A","tone":"blue"},{"x":332,"y":282,"t":"B","tone":"red"},
 {"x":763,"y":123,"t":"interaction layer","tone":"white"},{"x":760,"y":221,"t":"interaction layer","tone":"white"},
 {"x":760,"y":163,"t":"learned features","tone":"dark"},{"x":760,"y":262,"t":"learned features","tone":"dark"},
 {"x":106,"y":458,"t":"isolines of","tone":"gray"},{"x":192,"y":643,"t":"transition region","tone":"dark"},
 {"x":575,"y":623,"t":"equilibrium MD","tone":"gray"},{"x":575,"y":642,"t":"in all phases","tone":"gray"},
 {"x":1067,"y":448,"t":"harmonic bias potentials","tone":"gray"},{"x":1013,"y":467,"t":"in","tone":"gray"},{"x":1064,"y":552,"t":"transition","tone":"gray"},
 {"x":826,"y":556,"t":"A","tone":"blue"},{"x":856,"y":556,"t":"B","tone":"red"},{"x":981,"y":552,"t":"A","tone":"blue"},{"x":1144,"y":552,"t":"B","tone":"red"},
 {"x":728,"y":497,"t":"E","tone":"dark"}]},
 "mark":{"type":"text","font":"Noto Sans","fontSize":17,"align":"center","baseline":"middle"},
 "encoding":{"text":{"field":"t"}}},
{"data":{"values":[
 {"x":588,"y":154,"t":"energy","tone":"white"},{"x":588,"y":172,"t":"readout","tone":"white"},{"x":585,"y":251,"t":"energy","tone":"white"},{"x":585,"y":269,"t":"readout","tone":"white"},
 {"x":1083,"y":155,"t":"phase","tone":"white"},{"x":1083,"y":173,"t":"readout","tone":"white"},{"x":1084,"y":254,"t":"phase","tone":"white"},{"x":1084,"y":272,"t":"readout","tone":"white"},
 {"x":573,"y":493,"t":"trained to energy","tone":"gray"},{"x":573,"y":510,"t":"and force labels","tone":"gray"},
 {"x":824,"y":447,"t":"determine phase using","tone":"gray"},{"x":824,"y":464,"t":"geometry optimization","tone":"gray"}]},
 "mark":{"type":"text","font":"Noto Sans","fontSize":16.5,"align":"center","baseline":"middle"},
 "encoding":{"text":{"field":"t"}}},
{"data":{"values":[
 {"x":194,"y":16,"t":"A","tone":"dark"},{"x":194,"y":35,"t":"B","tone":"dark"},{"x":406,"y":16,"t":"A","tone":"dark"},{"x":407,"y":35,"t":"B","tone":"dark"}]},
 "mark":{"type":"text","font":"Noto Sans","fontSize":18,"align":"center","baseline":"middle"},
 "encoding":{"text":{"field":"t"}}},
{"data":{"values":[
 {"x":133,"y":16,"t":"phase","tone":"dark"},{"x":288,"y":16,"t":"optimizes to","tone":"dark"}]},
 "mark":{"type":"text","font":"Noto Sans","fontSize":18,"align":"left","baseline":"middle"},
 "encoding":{"text":{"field":"t"}}},
{"data":{"values":[
 {"x":1250,"y":95,"t":"phase A","tone":"dark"},{"x":1250,"y":198,"t":"phase B","tone":"dark"},
 {"x":965,"y":652,"t":"phase A","tone":"dark"},{"x":965,"y":677,"t":"phase B","tone":"dark"},
 {"x":730,"y":325,"t":": feature representation","tone":"gray"},{"x":740,"y":344,"t":"of atomic environment","tone":"gray"}]},
 "mark":{"type":"text","font":"Noto Sans","fontSize":17,"align":"left","baseline":"middle"},
 "encoding":{"text":{"field":"t"}}},
{"data":{"values":[
 {"x":56,"y":302,"t":"A","tone":"blue"},{"x":342,"y":62,"t":"B","tone":"red"}]},
 "mark":{"type":"text","font":"Noto Sans","fontSize":23,"align":"center","baseline":"middle"},
 "encoding":{"text":{"field":"t"}}},
{"data":{"values":[{"x":235,"y":17,"t":"⟺","tone":"dark"}]},
 "mark":{"type":"text","font":"DejaVu Sans","fontSize":22,"align":"center","baseline":"middle"},
 "encoding":{"text":{"field":"t"}}},
{"data":{"values":[
 {"x":568,"y":322,"t":"Σ","tone":"dark"},{"x":1211,"y":310,"t":"Σ","tone":"dark"}]},
 "mark":{"type":"text","font":"Liberation Serif, DejaVu Serif","fontSize":34,"align":"center","baseline":"middle"},
 "encoding":{"text":{"field":"t"}}},
{"data":{"values":[
 {"x":512,"y":318,"t":"E","tone":"dark"},{"x":606,"y":318,"t":"E","tone":"dark"},
 {"x":1094,"y":78,"t":"q","tone":"dark"},{"x":1094,"y":108,"t":"q","tone":"dark"},
 {"x":184,"y":448,"t":"q","tone":"blue"},{"x":242,"y":448,"t":"q","tone":"blue"},
 {"x":346,"y":548,"t":"q","tone":"red"},{"x":404,"y":548,"t":"q","tone":"red"},
 {"x":307,"y":686,"t":"f","tone":"dark"}]},
 "mark":{"type":"text","font":"Liberation Serif, DejaVu Serif","fontSize":26,"fontStyle":"italic","align":"center","baseline":"middle"},
 "encoding":{"text":{"field":"t"}}},
{"data":{"values":[
 {"x":1033,"y":91,"t":"q","tone":"dark"},{"x":1159,"y":305,"t":"q","tone":"dark"},{"x":1244,"y":305,"t":"q","tone":"dark"},
 {"x":236,"y":113,"t":"r","tone":"red"},{"x":174,"y":212,"t":"r","tone":"blue"},{"x":858,"y":75,"t":"r","tone":"dark"}]},
 "mark":{"type":"text","font":"Liberation Serif, DejaVu Serif","fontSize":26,"fontStyle":"italic","fontWeight":"bold","align":"center","baseline":"middle"},
 "encoding":{"text":{"field":"t"}}},
{"data":{"values":[
 {"x":538,"y":318,"t":"=","tone":"dark"},{"x":1057,"y":96,"t":"=","tone":"dark"},{"x":1183,"y":309,"t":"=","tone":"dark"},
 {"x":220,"y":452,"t":">","tone":"blue"},{"x":382,"y":552,"t":">","tone":"red"}]},
 "mark":{"type":"text","font":"Liberation Serif, DejaVu Serif","fontSize":26,"align":"center","baseline":"middle"},
 "encoding":{"text":{"field":"t"}}},
{"data":{"values":[
 {"x":583,"y":330,"t":"i","tone":"dark"},{"x":620,"y":330,"t":"i","tone":"dark"},{"x":1228,"y":317,"t":"i","tone":"dark"},{"x":1257,"y":317,"t":"i","tone":"dark"}]},
 "mark":{"type":"text","font":"Liberation Serif, DejaVu Serif","fontSize":17,"fontStyle":"italic","align":"center","baseline":"middle"},
 "encoding":{"text":{"field":"t"}}},
{"data":{"values":[
 {"x":1108,"y":87,"t":"A","tone":"dark"},{"x":1108,"y":117,"t":"B","tone":"dark"},
 {"x":196,"y":456,"t":"A","tone":"blue"},{"x":254,"y":456,"t":"B","tone":"blue"},{"x":358,"y":556,"t":"B","tone":"red"},{"x":416,"y":556,"t":"A","tone":"red"}]},
 "mark":{"type":"text","font":"Liberation Serif, DejaVu Serif","fontSize":17,"align":"center","baseline":"middle"},
 "encoding":{"text":{"field":"t"}}},
{"data":{"values":[
 {"x":163,"y":616,"t":"q","tone":"dark"},{"x":213,"y":616,"t":"q","tone":"dark"},
 {"x":1058,"y":649,"t":"q","tone":"blue"},{"x":1115,"y":649,"t":"q","tone":"blue"},
 {"x":1058,"y":674,"t":"q","tone":"red"},{"x":1115,"y":674,"t":"q","tone":"red"},
 {"x":72,"y":475,"t":"q","tone":"gray"},{"x":125,"y":475,"t":"q","tone":"gray"},
 {"x":724,"y":323,"t":"f","tone":"gray"}]},
 "mark":{"type":"text","font":"Liberation Serif, DejaVu Serif","fontSize":22,"fontStyle":"italic","align":"center","baseline":"middle"},
 "encoding":{"text":{"field":"t"}}},
{"data":{"values":[
 {"x":97,"y":15,"t":"r","tone":"dark"},{"x":275,"y":15,"t":"r","tone":"dark"},
 {"x":1215,"y":93,"t":"r","tone":"dark"},{"x":1215,"y":196,"t":"r","tone":"dark"},
 {"x":930,"y":650,"t":"r","tone":"dark"},{"x":930,"y":675,"t":"r","tone":"dark"}]},
 "mark":{"type":"text","font":"Liberation Serif, DejaVu Serif","fontSize":22,"fontStyle":"italic","fontWeight":"bold","align":"center","baseline":"middle"},
 "encoding":{"text":{"field":"t"}}},
{"data":{"values":[
 {"x":195,"y":620,"t":"=","tone":"dark"},{"x":1093,"y":652,"t":">","tone":"blue"},{"x":1093,"y":677,"t":">","tone":"red"},{"x":106,"y":478,"t":"−","tone":"gray"},
 {"x":118,"y":16,"t":"∈","tone":"dark"},{"x":1234,"y":95,"t":"∈","tone":"dark"},{"x":1234,"y":198,"t":"∈","tone":"dark"},{"x":947,"y":652,"t":"∈","tone":"dark"},{"x":947,"y":677,"t":"∈","tone":"dark"}]},
 "mark":{"type":"text","font":"Liberation Serif, DejaVu Serif","fontSize":22,"align":"center","baseline":"middle"},
 "encoding":{"text":{"field":"t"}}},
{"data":{"values":[
 {"x":174,"y":623,"t":"A","tone":"dark"},{"x":224,"y":623,"t":"B","tone":"dark"},
 {"x":1072,"y":656,"t":"A","tone":"blue"},{"x":1128,"y":656,"t":"B","tone":"blue"},
 {"x":1072,"y":681,"t":"B","tone":"red"},{"x":1128,"y":681,"t":"A","tone":"red"},
 {"x":85,"y":481,"t":"B","tone":"gray"},{"x":136,"y":481,"t":"A","tone":"gray"}]},
 "mark":{"type":"text","font":"Liberation Serif, DejaVu Serif","fontSize":14,"align":"center","baseline":"middle"},
 "encoding":{"text":{"field":"t"}}},
{"data":{"values":[
 {"x":1213,"y":116,"t":"q","tone":"gray"},{"x":1213,"y":135,"t":"q","tone":"gray"},{"x":1213,"y":219,"t":"q","tone":"gray"},{"x":1213,"y":237,"t":"q","tone":"gray"},
 {"x":1045,"y":464,"t":"q","tone":"gray"},{"x":1078,"y":464,"t":"q","tone":"gray"},{"x":1115,"y":464,"t":"q","tone":"gray"},
 {"x":1254,"y":652,"t":"q","tone":"gray"},{"x":1287,"y":652,"t":"q","tone":"gray"},{"x":1324,"y":652,"t":"q","tone":"gray"}]},
 "mark":{"type":"text","font":"Liberation Serif, DejaVu Serif","fontSize":18,"fontStyle":"italic","align":"center","baseline":"middle"},
 "encoding":{"text":{"field":"t"}}},
{"data":{"values":[
 {"x":1034,"y":467,"t":"Δ","tone":"gray"},{"x":1063,"y":467,"t":"=","tone":"gray"},{"x":1102,"y":467,"t":"−","tone":"gray"},
 {"x":1243,"y":655,"t":"Δ","tone":"gray"},{"x":1272,"y":655,"t":"=","tone":"gray"},{"x":1311,"y":655,"t":"−","tone":"gray"}]},
 "mark":{"type":"text","font":"Liberation Serif, DejaVu Serif","fontSize":18,"align":"center","baseline":"middle"},
 "encoding":{"text":{"field":"t"}}},
{"data":{"values":[
 {"x":1224,"y":120,"t":"A","tone":"gray"},{"x":1224,"y":139,"t":"B","tone":"gray"},{"x":1224,"y":223,"t":"A","tone":"gray"},{"x":1224,"y":241,"t":"B","tone":"gray"},
 {"x":1088,"y":470,"t":"B","tone":"gray"},{"x":1126,"y":470,"t":"A","tone":"gray"},
 {"x":1297,"y":658,"t":"B","tone":"gray"},{"x":1335,"y":658,"t":"A","tone":"gray"}]},
 "mark":{"type":"text","font":"Liberation Serif, DejaVu Serif","fontSize":12,"align":"center","baseline":"middle"},
 "encoding":{"text":{"field":"t"}}}
]
}
